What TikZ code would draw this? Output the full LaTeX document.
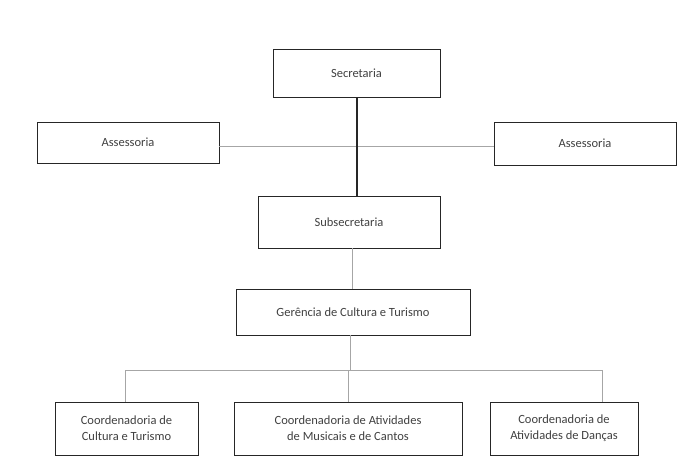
\documentclass[tikz,border=0pt]{standalone}
\usepackage{fontspec}
\setmainfont{Carlito}
\begin{document}
\begin{tikzpicture}[x=1pt,y=-1pt,
  box/.style={draw=black!85,line width=0.9pt,inner sep=0pt,align=center,text=black!75,font=\fontsize{12.5}{16}\selectfont},
  thin/.style={draw=black!35,line width=0.6pt},
  thick/.style={draw=black!85,line width=1.2pt}]
\useasboundingbox (0,0) rectangle (693,471);
\node[box,minimum width=167pt,minimum height=48pt] (sec) at (356.5,73) {Secretaria};
\node[box,minimum width=182pt,minimum height=41pt] (asl) at (128,142.5) {Assessoria};
\node[box,minimum width=182pt,minimum height=43pt] (asr) at (585,143.5) {Assessoria};
\node[box,minimum width=182pt,minimum height=52pt] (sub) at (349,222) {Subsecretaria};
\node[box,minimum width=234pt,minimum height=46pt] (ger) at (353,312) {Gerência de Cultura e Turismo};
\node[box,minimum width=143pt,minimum height=53pt] (c1) at (126.5,428.5) {Coordenadoria de\\Cultura e Turismo};
\node[box,minimum width=228pt,minimum height=53pt] (c2) at (348,428.5) {Coordenadoria de Atividades\\de Musicais e de Cantos};
\node[box,minimum width=148pt,minimum height=53pt] (c3) at (564,428.5) {Coordenadoria de\\Atividades de Danças};
\draw[thin] (asl.east |- 0,146) -- (asr.west |- 0,146);
\draw[thick] (sec.south -| 357,0) -- (sub.north -| 357,0);
\draw[thin] (sub.south -| 352,0) -- (ger.north -| 352,0);
\coordinate (j) at (350,370);
\draw[thin] (ger.south -| j) -- (j);
\draw[thin] (j) -| (c1.north -| 125,0);
\draw[thin] (j) -| (c3.north -| 602,0);
\draw[thin] (j -| 348,0) -- (c2.north);
\end{tikzpicture}
\end{document}
